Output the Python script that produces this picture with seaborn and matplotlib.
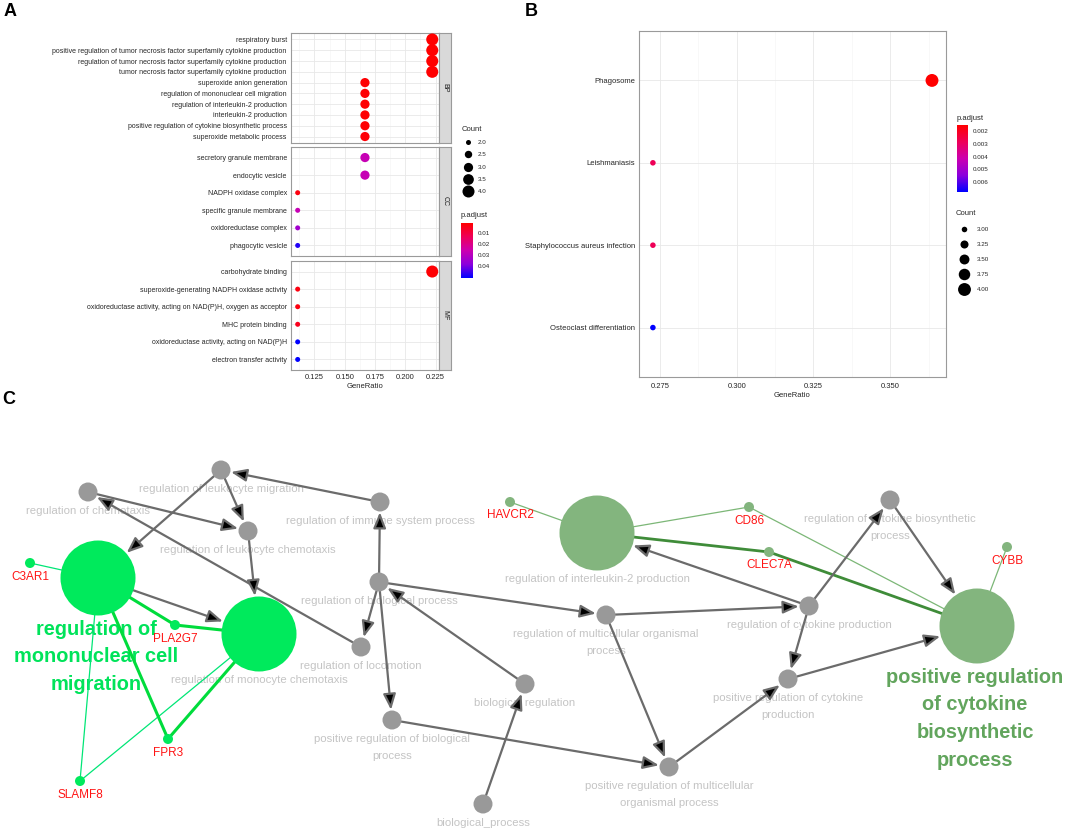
import matplotlib
matplotlib.use("Agg")
import matplotlib.pyplot as plt
import numpy as np
import pandas as pd
import seaborn as sns
from matplotlib.colors import LinearSegmentedColormap, Normalize
from matplotlib.cm import ScalarMappable
from matplotlib.lines import Line2D

# ---------------------------------------------------------------- data: panel A (GO)
bp_terms = ["respiratory burst",
            "positive regulation of tumor necrosis factor superfamily cytokine production",
            "regulation of tumor necrosis factor superfamily cytokine production",
            "tumor necrosis factor superfamily cytokine production",
            "superoxide anion generation",
            "regulation of mononuclear cell migration",
            "regulation of interleukin-2 production",
            "interleukin-2 production",
            "positive regulation of cytokine biosynthetic process",
            "superoxide metabolic process"]
bp_ratio = [4/18, 4/18, 4/18, 4/18, 3/18, 3/18, 3/18, 3/18, 3/18, 3/18]
bp_count = [4, 4, 4, 4, 3, 3, 3, 3, 3, 3]
bp_padj = [0.0008, 0.0008, 0.0008, 0.0009, 0.0012, 0.0012, 0.0012, 0.0012, 0.0012, 0.0015]

cc_terms = ["secretory granule membrane", "endocytic vesicle", "NADPH oxidase complex",
            "specific granule membrane", "oxidoreductase complex", "phagocytic vesicle"]
cc_ratio = [3/18, 3/18, 2/18, 2/18, 2/18, 2/18]
cc_count = [3, 3, 2, 2, 2, 2]
cc_padj = [0.027, 0.027, 0.003, 0.027, 0.034, 0.048]

mf_terms = ["carbohydrate binding",
            "superoxide-generating NADPH oxidase activity",
            "oxidoreductase activity, acting on NAD(P)H, oxygen as acceptor",
            "MHC protein binding",
            "oxidoreductase activity, acting on NAD(P)H",
            "electron transfer activity"]
mf_ratio = [4/18, 2/18, 2/18, 2/18, 2/18, 2/18]
mf_count = [4, 2, 2, 2, 2, 2]
mf_padj = [0.0012, 0.003, 0.003, 0.005, 0.051, 0.051]

a_xticks = [0.125, 0.150, 0.175, 0.200, 0.225]
a_count_legend = [2.0, 2.5, 3.0, 3.5, 4.0]
a_padj_ticks = [0.01, 0.02, 0.03, 0.04]

# ---------------------------------------------------------------- data: panel B (KEGG)
kegg_terms = ["Phagosome", "Leishmaniasis", "Staphylococcus aureus infection",
              "Osteoclast differentiation"]
kegg_ratio = [4/11, 3/11, 3/11, 3/11]
kegg_count = [4, 3, 3, 3]
kegg_padj = [0.0015, 0.0028, 0.0028, 0.0068]
b_xticks = [0.275, 0.300, 0.325, 0.350]
b_count_legend = [3.00, 3.25, 3.50, 3.75, 4.00]
b_padj_ticks = [0.002, 0.003, 0.004, 0.005, 0.006]

# ---------------------------------------------------------------- data: panel C (network)
node_names = ["regulation of leukocyte migration", "regulation of chemotaxis",
              "regulation of leukocyte chemotaxis", "regulation of immune system process",
              "regulation of biological process", "regulation of locomotion",
              "biological regulation", "positive regulation of biological process",
              "biological_process", "regulation of multicellular organismal process",
              "positive regulation of multicellular organismal process",
              "regulation of cytokine production", "positive regulation of cytokine production",
              "regulation of cytokine biosynthetic process",
              "regulation of mononuclear cell migration", "regulation of monocyte chemotaxis",
              "regulation of interleukin-2 production",
              "positive regulation of cytokine biosynthetic process",
              "C3AR1", "PLA2G7", "FPR3", "SLAMF8", "HAVCR2", "CD86", "CLEC7A", "CYBB"]
node_x = [221, 88, 248, 380, 379, 361, 525, 392, 483, 606, 669, 809, 788, 890,
          98, 259, 597, 977,
          30, 175, 168, 80, 510, 749, 769, 1007]
node_y = [470, 492, 531, 502, 582, 647, 684, 720, 804, 615, 767, 606, 679, 500,
          578, 634, 533, 626,
          563, 625, 739, 781, 502, 507, 552, 547]
node_kind = ["term"] * 14 + ["hubL", "hubL", "hubR", "hubR"] + ["geneL"] * 4 + ["geneR"] * 4
node_label = ["regulation of leukocyte migration", "regulation of chemotaxis",
              "regulation of leukocyte chemotaxis", "regulation of immune system process",
              "regulation of biological process", "regulation of locomotion",
              "biological regulation", "positive regulation of biological\nprocess",
              "biological_process", "regulation of multicellular organismal\nprocess",
              "positive regulation of multicellular\norganismal process",
              "regulation of cytokine production", "positive regulation of cytokine\nproduction",
              "regulation of cytokine biosynthetic\nprocess",
              "regulation of\nmononuclear cell\nmigration", "regulation of monocyte chemotaxis",
              "regulation of interleukin-2 production",
              "positive regulation\nof cytokine\nbiosynthetic\nprocess",
              "C3AR1", "PLA2G7", "FPR3", "SLAMF8", "HAVCR2", "CD86", "CLEC7A", "CYBB"]

arrow_src = ["regulation of immune system process", "regulation of leukocyte migration",
             "regulation of leukocyte migration", "regulation of chemotaxis",
             "regulation of locomotion", "regulation of leukocyte chemotaxis",
             "regulation of mononuclear cell migration", "regulation of biological process",
             "regulation of biological process", "regulation of biological process",
             "regulation of biological process", "biological regulation", "biological_process",
             "positive regulation of biological process",
             "regulation of multicellular organismal process",
             "regulation of multicellular organismal process",
             "positive regulation of multicellular organismal process",
             "regulation of cytokine production", "regulation of cytokine production",
             "regulation of cytokine production", "positive regulation of cytokine production",
             "regulation of cytokine biosynthetic process"]
arrow_dst = ["regulation of leukocyte migration", "regulation of leukocyte chemotaxis",
             "regulation of mononuclear cell migration", "regulation of leukocyte chemotaxis",
             "regulation of chemotaxis", "regulation of monocyte chemotaxis",
             "regulation of monocyte chemotaxis", "regulation of immune system process",
             "regulation of locomotion", "positive regulation of biological process",
             "regulation of multicellular organismal process", "regulation of biological process",
             "biological regulation", "positive regulation of multicellular organismal process",
             "regulation of cytokine production",
             "positive regulation of multicellular organismal process",
             "positive regulation of cytokine production",
             "regulation of interleukin-2 production", "regulation of cytokine biosynthetic process",
             "positive regulation of cytokine production",
             "positive regulation of cytokine biosynthetic process",
             "positive regulation of cytokine biosynthetic process"]

gene_edge_a = ["C3AR1", "SLAMF8", "SLAMF8", "PLA2G7", "PLA2G7", "FPR3", "FPR3",
               "HAVCR2", "CD86", "CD86", "CYBB", "CLEC7A", "CLEC7A"]
gene_edge_b = ["regulation of mononuclear cell migration", "regulation of mononuclear cell migration",
               "regulation of monocyte chemotaxis", "regulation of mononuclear cell migration",
               "regulation of monocyte chemotaxis", "regulation of mononuclear cell migration",
               "regulation of monocyte chemotaxis",
               "regulation of interleukin-2 production", "regulation of interleukin-2 production",
               "positive regulation of cytokine biosynthetic process",
               "positive regulation of cytokine biosynthetic process",
               "regulation of interleukin-2 production",
               "positive regulation of cytokine biosynthetic process"]
gene_edge_w = ["thin", "thin", "thin", "thick", "thick", "thick", "thick",
               "thin", "thin", "thin", "thin", "thick", "thick"]

# ---------------------------------------------------------------- style
sns.set_theme(style="white")
plt.rcParams["font.family"] = ["Liberation Sans", "DejaVu Sans"]

W, H = 1065, 831
fig = plt.figure(figsize=(W / 100, H / 100), dpi=100)
fig.patch.set_facecolor("white")


def px_axes(l, t, r, b):
    return fig.add_axes([l / W, 1 - b / H, (r - l) / W, (b - t) / H])


def fx(x):
    return x / W


def fy(y):
    return 1 - y / H


cmap = LinearSegmentedColormap.from_list(
    "padj", ["#ff0000", "#ee0058", "#cc00b0", "#8c00dc", "#0000ff"])
BORDER = "#9a9a9a"
TXT = "#262626"


def style_panel(ax):
    for s in ax.spines.values():
        s.set_color(BORDER)
        s.set_linewidth(0.8)
    ax.set_facecolor("white")
    ax.set_axisbelow(True)
    ax.set_xlabel("")
    ax.set_ylabel("")


def size_legend(values, smin, smax, vmin, vmax, x, y, spacing, hlen, tpad):
    handles = []
    for v in values:
        s = smin + (v - vmin) / (vmax - vmin) * (smax - smin)
        handles.append(Line2D([], [], marker="o", ls="", color="black",
                              markersize=np.sqrt(s), markeredgewidth=0))
    fmt = "{:.1f}" if values[1] - values[0] >= 0.5 else "{:.2f}"
    leg = fig.legend(handles=handles, labels=[fmt.format(v) for v in values],
                     title="Count", loc="upper left", bbox_to_anchor=(fx(x), fy(y)),
                     frameon=False, fontsize=4.5, title_fontsize=5.5,
                     labelspacing=spacing, handletextpad=tpad, borderpad=0,
                     borderaxespad=0, alignment="left", handlelength=hlen)
    for t in leg.get_texts():
        t.set_color(TXT)


def colorbar(norm, ticks, l, t, r, b, fmt):
    cax = px_axes(l, t, r, b)
    cb = fig.colorbar(ScalarMappable(norm=norm, cmap=cmap), cax=cax)
    cb.outline.set_visible(False)
    cax.invert_yaxis()
    cb.set_ticks(ticks)
    cb.set_ticklabels([fmt.format(v) for v in ticks])
    cax.tick_params(labelsize=4.5, length=2, width=0.6, color="white", pad=1.5,
                    labelcolor=TXT)
    fig.text(fx(l), fy(t - 7), "p.adjust", fontsize=5.5, color=TXT, ha="left", va="center")


# ---------------------------------------------------------------- panel A
normA = Normalize(0.0007, 0.051)
facets = [("BP", bp_terms, bp_ratio, bp_count, bp_padj, 33, 143),
          ("CC", cc_terms, cc_ratio, cc_count, cc_padj, 147, 256),
          ("MF", mf_terms, mf_ratio, mf_count, mf_padj, 261, 370)]
for i, (lab, terms, ratio, count, padj, t, b) in enumerate(facets):
    ax = px_axes(291, t, 439, b)
    df = pd.DataFrame({"Description": terms, "GeneRatio": ratio,
                       "Count": count, "p.adjust": padj})
    sns.scatterplot(data=df, x="GeneRatio", y="Description", hue="p.adjust", size="Count",
                    palette=cmap, hue_norm=normA, sizes=(13, 75), size_norm=(2, 4),
                    legend=False, linewidth=0, ax=ax, zorder=3)
    style_panel(ax)
    ax.set_xlim(0.1056, 0.2278)
    ax.set_ylim(len(terms) - 0.4, -0.6)
    ax.set_xticks(a_xticks)
    ax.set_xticks([v - 0.0125 for v in a_xticks], minor=True)
    ax.grid(True, which="major", color="#e8e8e8", lw=0.6)
    ax.grid(True, which="minor", axis="x", color="#f4f4f4", lw=0.4)
    ax.tick_params(axis="y", length=2, width=0.5, color="#333333", labelsize=5, pad=1,
                   labelcolor=TXT)
    ax.tick_params(axis="x", which="minor", length=0)
    if i < 2:
        ax.tick_params(axis="x", which="major", length=0, labelbottom=False)
    else:
        ax.tick_params(axis="x", which="major", length=2, width=0.5, color="#333333",
                       labelsize=5.5, pad=1, labelcolor=TXT)
        ax.set_xticklabels(["{:.3f}".format(v) for v in a_xticks])
        ax.set_xlabel("GeneRatio", fontsize=5.5, color=TXT, labelpad=1)
    sax = px_axes(439, t, 451, b)
    sax.set_facecolor("#d9d9d9")
    sax.set_xticks([])
    sax.set_yticks([])
    for s in sax.spines.values():
        s.set_color(BORDER)
        s.set_linewidth(0.8)
    sax.text(0.5, 0.5, lab, rotation=-90, fontsize=5, color="#1a1a1a",
             ha="center", va="center", transform=sax.transAxes)

size_legend(a_count_legend, 13, 75, 2, 4, 462, 126, 1.1, 2.0, 0.5)
colorbar(normA, a_padj_ticks, 461, 223, 473, 278, "{:.2f}")

# ---------------------------------------------------------------- panel B
normB = Normalize(0.0015, 0.0068)
axB = px_axes(639, 31, 946, 377)
dfk = pd.DataFrame({"Description": kegg_terms, "GeneRatio": kegg_ratio,
                    "Count": kegg_count, "p.adjust": kegg_padj})
sns.scatterplot(data=dfk, x="GeneRatio", y="Description", hue="p.adjust", size="Count",
                palette=cmap, hue_norm=normB, sizes=(16, 86), size_norm=(3, 4),
                legend=False, linewidth=0, ax=axB, zorder=3)
style_panel(axB)
axB.set_xlim(0.2682, 0.3682)
axB.set_ylim(len(kegg_terms) - 0.4, -0.6)
axB.set_xticks(b_xticks)
axB.set_xticks([v + 0.0125 for v in b_xticks], minor=True)
axB.grid(True, which="major", color="#e8e8e8", lw=0.6)
axB.grid(True, which="minor", axis="x", color="#f4f4f4", lw=0.4)
axB.tick_params(axis="y", length=2, width=0.5, color="#333333", labelsize=5.5, pad=1,
                labelcolor=TXT)
axB.tick_params(axis="x", which="major", length=2, width=0.5, color="#333333",
                labelsize=5.5, pad=2, labelcolor=TXT)
axB.tick_params(axis="x", which="minor", length=0)
axB.set_xticklabels(["{:.3f}".format(v) for v in b_xticks])
axB.set_xlabel("GeneRatio", fontsize=5.5, color=TXT, labelpad=2)

colorbar(normB, b_padj_ticks, 957, 125, 968, 192, "{:.3f}")
size_legend(b_count_legend, 16, 86, 3, 4, 956, 210, 1.55, 2.5, 0.9)

# ---------------------------------------------------------------- panel C
axC = px_axes(0, 390, W, H)

nodes = pd.DataFrame({"name": node_names, "x": node_x, "y": node_y,
                      "kind": node_kind, "label": node_label})
pos = {n: (x, y) for n, x, y in zip(node_names, node_x, node_y)}
kind_of = dict(zip(node_names, node_kind))
radius_px = {"term": 9.5, "hubL": 37.5, "hubR": 37.5, "geneL": 5, "geneR": 5}
kind_size = {k: (2 * r * 0.72) ** 2 for k, r in radius_px.items()}
kind_color = {"term": "#999999", "hubL": "#00ea5c", "hubR": "#83b57e",
              "geneL": "#00ea5c", "geneR": "#83b57e"}

# gene - term edges
edge_style = {("L", "thin"): ("#00e676", 0.9), ("L", "thick"): ("#00dc3c", 2.2),
              ("R", "thin"): ("#7cb777", 0.9), ("R", "thick"): ("#3f8c39", 2.0)}
for a, b, w in zip(gene_edge_a, gene_edge_b, gene_edge_w):
    side = kind_of[a][-1]
    col, lw = edge_style[(side, w)]
    (x1, y1), (x2, y2) = pos[a], pos[b]
    axC.plot([x1, x2], [y1, y2], color=col, lw=lw, zorder=2, solid_capstyle="round")

# directed term edges
for s, d in zip(arrow_src, arrow_dst):
    axC.annotate("", xy=pos[d], xytext=pos[s], zorder=2,
                 arrowprops=dict(arrowstyle="-|>,head_length=0.95,head_width=0.38",
                                 mutation_scale=10, lw=1.6, ec="#6b6b6b", fc="black",
                                 shrinkA=radius_px[kind_of[s]] * 0.72,
                                 shrinkB=radius_px[kind_of[d]] * 0.72 + 0.5))

sns.scatterplot(data=nodes, x="x", y="y", hue="kind", size="kind", palette=kind_color,
                sizes=kind_size, legend=False, linewidth=0, ax=axC, zorder=3)
axC.set_xlim(0, W)
axC.set_ylim(H, 390)
axC.axis("off")

for _, r in nodes.iterrows():
    k = r["kind"]
    lines = r["label"].split("\n")
    if k == "term":
        for j, ln in enumerate(lines):
            axC.text(r["x"], r["y"] + 19 + 17 * j, ln, fontsize=8.2, color="#c4c4c4",
                     ha="center", va="center", zorder=1)
    elif k.startswith("gene"):
        axC.text(r["x"], r["y"] + 13.5, lines[0], fontsize=8.5, color="#ff1414",
                 ha="center", va="center", zorder=4)
    elif len(lines) == 1:
        axC.text(r["x"], r["y"] + 46, lines[0], fontsize=8.2, color="#c4c4c4",
                 ha="center", va="center", zorder=1)
    else:
        col = "#00e35a" if k == "hubL" else "#62a55d"
        for j, ln in enumerate(lines):
            axC.text(r["x"] - 2, r["y"] + 51.5 + 27.5 * j, ln, fontsize=14.4,
                     fontweight="bold", color=col, ha="center", va="center", zorder=1)

# ---------------------------------------------------------------- panel letters
for letter, x, y in [("A", 10, 12), ("B", 531, 12), ("C", 9, 400)]:
    fig.text(fx(x), fy(y), letter, fontsize=13, fontweight="bold", color="black",
             ha="center", va="center")

fig.savefig("out.png", dpi=100, facecolor="white")
